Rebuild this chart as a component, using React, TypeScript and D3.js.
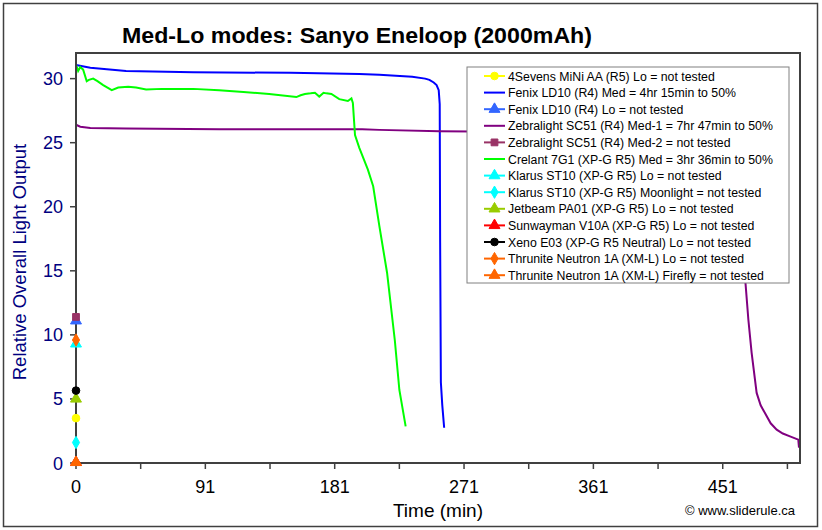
import * as d3 from 'd3';

const title = 'Med-Lo modes: Sanyo Eneloop (2000mAh)';
const yTitle = 'Relative Overall Light Output';
const xTitle = 'Time (min)';
const credit = '\u00a9 www.sliderule.ca';

const yTicks = [0, 5, 10, 15, 20, 25, 30];
const xTickStep = 45.2;
const xTickLabels = ['0', '91', '181', '271', '361', '451'];

// [minutes, relative output]
const fenixMed: [number, number][] = [
  [0, 31.06], [10, 30.85], [35, 30.6], [82, 30.5], [150, 30.45], [198, 30.36],
  [212, 30.3], [235, 30.15], [244, 30.0], [247, 29.9], [250, 29.7], [252, 29.5],
  [253.5, 29.1], [254.2, 28.0], [254.5, 17.2], [255, 6.3], [256, 4.5], [257.3, 2.75],
];
const zebraMed1: [number, number][] = [
  [0, 26.4], [3, 26.25], [10, 26.15], [35, 26.1], [100, 26.05], [200, 26.05],
  [212, 26.0], [254, 25.9], [300, 25.85], [400, 25.8], [455, 25.75], [460, 25.0],
  [464, 19.5], [468, 13.9], [469.9, 11.2], [472.2, 8.6], [475.7, 5.47], [478.5, 4.5],
  [481.5, 3.9], [485.5, 3.1], [489.7, 2.6], [494, 2.3], [499, 2.08], [504.8, 1.82], [505.3, 1.2],
];
const crelantMed: [number, number][] = [
  [0, 31.1], [1.5, 30.6], [3, 30.9], [5, 30.7], [7.5, 29.8], [9, 29.9], [12, 30.0],
  [15, 29.8], [19, 29.5], [25, 29.1], [29.5, 29.3], [36.5, 29.37], [42, 29.3], [49, 29.16],
  [60, 29.2], [82, 29.2], [100, 29.1], [117, 28.95], [135, 28.8], [154, 28.56], [157, 28.7],
  [160, 28.8], [164, 28.85], [167, 28.9], [170, 28.6], [173, 28.9], [175, 28.85],
  [178.5, 28.8], [184, 28.4], [190, 28.25], [192.5, 28.45], [193.5, 28.1], [195, 25.6],
  [198, 24.6], [204, 22.9], [207.7, 21.6], [212, 18.5], [217.4, 14.85], [222.8, 9.6],
  [226, 5.7], [230.4, 2.86],
];

// single untested points at t = 0
const legendNames = [
  '4Sevens MiNi AA (R5) Lo = not tested',
  'Fenix LD10 (R4) Med = 4hr 15min to 50%',
  'Fenix LD10 (R4) Lo = not tested',
  'Zebralight SC51 (R4) Med-1 = 7hr 47min to 50%',
  'Zebralight SC51 (R4) Med-2 = not tested',
  'Crelant 7G1 (XP-G R5) Med = 3hr 36min to 50%',
  'Klarus ST10 (XP-G R5) Lo = not tested',
  'Klarus ST10 (XP-G R5) Moonlight = not tested',
  'Jetbeam PA01 (XP-G R5) Lo = not tested',
  'Sunwayman V10A (XP-G R5) Lo = not tested',
  'Xeno E03 (XP-G R5 Neutral) Lo = not tested',
  'Thrunite Neutron 1A (XM-L) Lo = not tested',
  'Thrunite Neutron 1A (XM-L) Firefly = not tested',
];
const seriesColors = [
  '#FFFF00', '#0000FF', '#3366FF', '#800080', '#993366', '#00FF00', '#00FFFF',
  '#00FFFF', '#99CC00', '#FF0000', '#000000', '#FF6600', '#FF6600',
];
const seriesMarkers = [
  'circle', 'none', 'triangle', 'none', 'square', 'none', 'triangle',
  'diamond', 'triangle', 'triangle', 'circle', 'diamond', 'triangle',
];
const startValues = [3.5, null, 11.1, null, 11.4, null, 9.3, 1.6, 5.0, 0.05, 5.65, 9.6, 0.05];
const lineData: ([number, number][] | null)[] = [
  null, fenixMed, null, zebraMed1, null, crelantMed, null, null, null, null, null, null, null,
];

const W = 822;
const H = 530;
const plot = { left: 76, right: 800, top: 53, bottom: 463 };
const font = "'Liberation Sans', Arial, sans-serif";

const x = d3.scaleLinear().domain([0, 506]).range([plot.left, plot.right]);
const y = d3.scaleLinear().domain([0, 32]).range([plot.bottom, plot.top]);

const symbolFor: Record<string, d3.SymbolType> = {
  circle: d3.symbolCircle,
  triangle: d3.symbolTriangle,
  square: d3.symbolSquare,
  diamond: d3.symbolDiamond,
};

function Marker({ kind, color, cx, cy }: { kind: string; color: string; cx: number; cy: number }) {
  if (kind === 'none') return null;
  const size = kind === 'triangle' ? 52 : kind === 'diamond' ? 44 : 46;
  const path = d3.symbol().type(symbolFor[kind]).size(size)() || '';
  return <path d={path} transform={`translate(${cx},${cy})`} fill={color} stroke={color} strokeWidth={1} />;
}

export default function App() {
  const line = d3
    .line<[number, number]>()
    .x((d) => x(d[0]))
    .y((d) => y(d[1]));

  const xTickVals = d3.range(0, 12).map((i) => i * xTickStep);
  const legend = { x: 467, y: 67, w: 322, h: 216, row: 16.6 };

  return (
    <div style={{ position: 'absolute', left: 0, top: 0 }}>
      <svg width={W} height={H} style={{ display: 'block', fontFamily: font }}>
        <rect x={0} y={0} width={W} height={H} fill="#fff" />
        <rect x={3.5} y={3.5} width={814} height={523} fill="none" stroke="#404040" strokeWidth={1.5} />

        <text
          x={357}
          y={43}
          textAnchor="middle"
          fontSize={22}
          fontWeight="bold"
          fill="#000"
          textLength={470}
          lengthAdjust="spacingAndGlyphs"
        >
          {title}
        </text>

        {/* y axis */}
        {yTicks.map((t) => (
          <g key={t}>
            <line x1={plot.left - 6} x2={plot.left} y1={y(t)} y2={y(t)} stroke="#404040" strokeWidth={1.5} />
            <text x={plot.left - 13} y={y(t) + 6.5} textAnchor="end" fontSize={18} fill="#000080">
              {t}
            </text>
          </g>
        ))}
        <text
          transform={`translate(26,${(plot.top + plot.bottom) / 2 + 4}) rotate(-90)`}
          textAnchor="middle"
          fontSize={18.5}
          fill="#000080"
        >
          {yTitle}
        </text>

        {/* x axis */}
        {xTickVals.map((t, i) => (
          <g key={i}>
            <line x1={x(t)} x2={x(t)} y1={plot.bottom} y2={plot.bottom + 6} stroke="#404040" strokeWidth={1.5} />
            {i % 2 === 0 && (
              <text x={x(t)} y={plot.bottom + 30} textAnchor="middle" fontSize={18} fill="#000">
                {xTickLabels[i / 2]}
              </text>
            )}
          </g>
        ))}
        <text x={(plot.left + plot.right) / 2} y={517} textAnchor="middle" fontSize={19} fill="#000">
          {xTitle}
        </text>
        <text x={795} y={515} textAnchor="end" fontSize={13} fill="#000">
          {credit}
        </text>

        {/* lines */}
        {lineData.map((d, i) =>
          d ? <path key={i} d={line(d) || ''} fill="none" stroke={seriesColors[i]} strokeWidth={2} /> : null
        )}

        <rect
          x={plot.left}
          y={plot.top}
          width={plot.right - plot.left}
          height={plot.bottom - plot.top}
          fill="none"
          stroke="#404040"
          strokeWidth={2}
        />

        {/* single points */}
        {startValues.map((v, i) =>
          v === null ? null : (
            <Marker key={i} kind={seriesMarkers[i]} color={seriesColors[i]} cx={x(0)} cy={y(v)} />
          )
        )}

        {/* legend */}
        <rect x={legend.x} y={legend.y} width={legend.w} height={legend.h} fill="#fff" stroke="#808080" strokeWidth={1} />
        {legendNames.map((name, i) => {
          const ly = legend.y + 9 + i * legend.row;
          return (
            <g key={i}>
              <line x1={484} x2={505} y1={ly} y2={ly} stroke={seriesColors[i]} strokeWidth={2} />
              <Marker kind={seriesMarkers[i]} color={seriesColors[i]} cx={494.5} cy={ly} />
              <text x={508} y={ly + 4.5} fontSize={12.3} fill="#000">
                {name}
              </text>
            </g>
          );
        })}
      </svg>
    </div>
  );
}
